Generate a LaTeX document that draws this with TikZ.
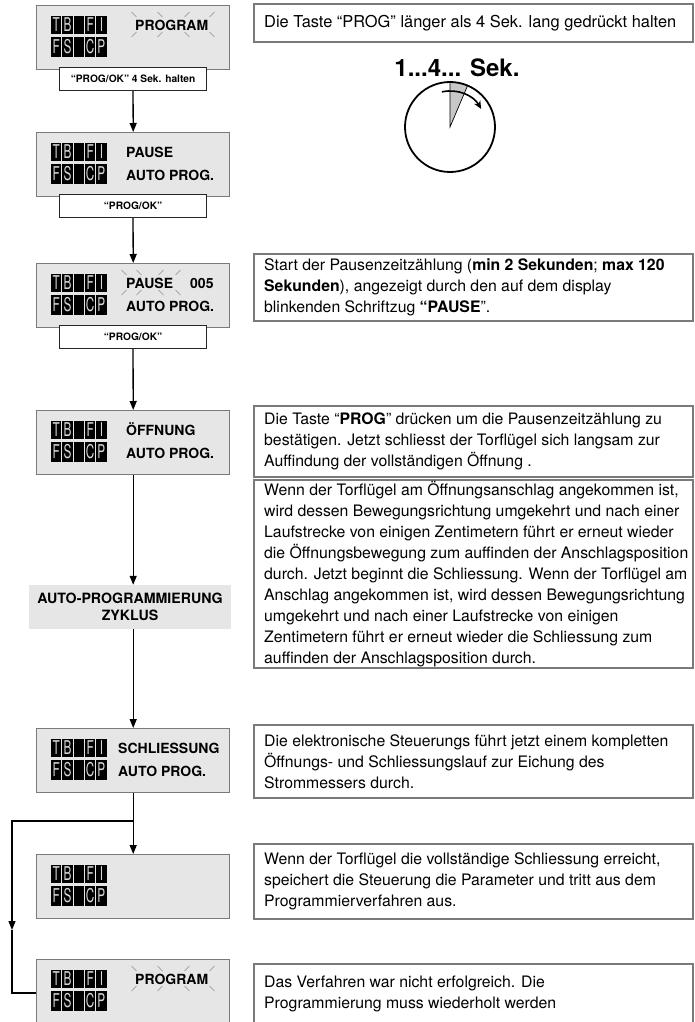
\documentclass[tikz,border=0pt]{standalone}
\usepackage{fontspec}
\setmainfont{TeX Gyre Heros}
\usetikzlibrary{arrows.meta}
\definecolor{dispgray}{HTML}{E6E6E6}
\definecolor{framegray}{HTML}{7A7A7A}
\definecolor{lcdtxt}{HTML}{D8D8D8}
\definecolor{wedgegray}{HTML}{C8C8C8}
\tikzset{
 disp/.style={draw=framegray, line width=1.4pt, fill=dispgray, minimum width=193pt, minimum height=64pt, anchor=north west, inner sep=0pt},
 btn/.style={draw=black!85, line width=1.1pt, fill=white, font=\fontsize{10.2}{12}\selectfont\bfseries, minimum width=147pt, minimum height=23pt, anchor=north west, inner sep=0pt},
 autobox/.style={fill=dispgray, minimum width=202pt, minimum height=44pt, align=center, inner sep=0pt, font=\fontsize{14.2}{17}\selectfont\bfseries},
 tframe/.style={draw=framegray, line width=1.8pt, minimum width=439pt, anchor=north west, inner sep=0pt},
 ttext/.style={font=\fontsize{15.8}{21}\selectfont, align=left, inner sep=0pt, anchor=west},
 dtext/.style={font=\fontsize{14}{17}\selectfont\bfseries, inner sep=0pt, anchor=base west},
 conn/.style={line width=1.3pt, black},
 arr/.style={conn, -{Triangle[length=9pt,width=7pt]}},
 blinkmark/.style={draw=black!45, line width=0.6pt},
 lcdletter/.style={text=lcdtxt, font=\fontsize{19}{19}\selectfont, inner sep=0pt},
}
% #1 name prefix, #2 box top
\newcommand\lcdicon[2]{%
 \foreach \i/\a/\b in {0/T/F,1/B/S,2//,3/F/C,4/I/P}{
   \fill (51+\i*11.3, #2+11) rectangle ++(10.4,18);
   \fill (51+\i*11.3, #2+32) rectangle ++(10.4,20);
   \node[lcdletter] (#1-a\i) at (56.2+\i*11.3, #2+20) {\scalebox{0.62}[1]{\a}};
   \node[lcdletter] (#1-b\i) at (56.2+\i*11.3, #2+42) {\scalebox{0.62}[1]{\b}};
 }}
% #1..#4 x positions, #5 y centre
\newcommand\blinkmarks[5]{%
 \draw[blinkmark] (#1-2.5,#5-13) -- (#1+2.5,#5-8);
 \draw[blinkmark] (#2-2.5,#5-13) -- (#2+2.5,#5-8);
 \draw[blinkmark] (#3-2.5,#5-8) -- (#3+2.5,#5-13);
 \draw[blinkmark] (#4-2.5,#5-8) -- (#4+2.5,#5-13);
 \draw[blinkmark] (#1-2.5,#5+12) -- (#1+2.5,#5+7);
 \draw[blinkmark] (#2-2.5,#5+12) -- (#2+2.5,#5+7);
 \draw[blinkmark] (#3-2.5,#5+7) -- (#3+2.5,#5+12);
 \draw[blinkmark] (#4-2.5,#5+7) -- (#4+2.5,#5+12);
}
\begin{document}
\begin{tikzpicture}[x=1pt,y=-1pt]
\path[use as bounding box] (0,0) rectangle (694,1022);
\clip (0,0) rectangle (694,1022);

% ---------- displays ----------
\node[disp] (d1) at (36,5) {};
\lcdicon{i1}{5}
\node[dtext] (d1t) at (135,30.2) {PROGRAM};
\blinkmarks{134}{160}{187}{212}{25}
\node[btn] (b1) at (59,67) {“PROG/OK” 4 Sek. halten};

\node[disp] (d2) at (36,132) {};
\lcdicon{i2}{132}
\node[dtext] (d2a) at (126,157.2) {PAUSE};
\node[dtext] (d2b) at (126,180.2) {AUTO PROG.};
\node[btn] (b2) at (59,194) {“PROG/OK”};

\node[disp] (d3) at (36,263) {};
\lcdicon{i3}{263}
\node[dtext] (d3a) at (126,288.2) {PAUSE};
\node[dtext] (d3c) at (190,288.2) {005};
\blinkmarks{124}{139}{161}{178}{283}
\node[dtext] (d3b) at (126,311.2) {AUTO PROG.};
\node[btn] (b3) at (59,325) {“PROG/OK”};

\node[disp] (d4) at (36,410) {};
\lcdicon{i4}{410}
\node[dtext] (d4a) at (126,435.2) {ÖFFNUNG};
\node[dtext] (d4b) at (126,458.2) {AUTO PROG.};

\node[autobox] (ap) at (130,607) {AUTO-PROGRAMMIERUNG\\ZYKLUS};

\node[disp] (d5) at (36,728) {};
\lcdicon{i5}{728}
\node[dtext] (d5a) at (118,753.2) {SCHLIESSUNG};
\node[dtext] (d5b) at (118,776.2) {AUTO PROG.};

\node[disp] (d6) at (36,854) {};
\lcdicon{i6}{854}

\node[disp, minimum height=90pt] (d7) at (36,959) {};
\lcdicon{i7}{959}
\node[dtext] (d7t) at (135,984.2) {PROGRAM};
\blinkmarks{134}{160}{187}{212}{979}

% ---------- connectors ----------
\draw[arr] (b1.south) -- (d2.north);
\draw[arr] (b2.south) -- (d3.north);
\draw[arr] (b3.south) -- (d4.north);
\draw[arr] (d4.south) -- (d4.south |- ap.north);
\draw[arr] (d5.north |- ap.south) -- (d5.north);
\coordinate (jy) at (0,821);
\coordinate (j) at (d5.south |- jy);
\coordinate (lc) at (12,821);
\coordinate (la) at (12,930);
\coordinate (lb) at (12,993);
\draw[conn] (d5.south) -- (j);
\draw[arr] (j) -- (d6.north);
\draw[arr] (j) -- (lc) -- (la);
\draw[conn] (la) -- (lb) -- (d7.west |- lb);

% ---------- clock ----------
\node[font=\fontsize{24}{26}\selectfont\bfseries, inner sep=0pt] (ct) at (457,68) {1...4... Sek.};
\coordinate (cc) at (450,127);
\fill[wedgegray] (cc) -- (450,82) arc[start angle=-90, end angle=-67, radius=45] -- cycle;
\draw[line width=0.7pt] (467.6,85.6) -- (cc) -- (450,82);
\draw[line width=1.8pt] (cc) circle[radius=45];
\draw[line width=1.6pt, -{Stealth[length=8pt,width=7pt]}] (441.9,91.9) arc[start angle=-103, end angle=-30, radius=36];

% ---------- text boxes ----------
\node[tframe, minimum height=38pt] (t1) at (253,3) {};
\node[ttext, font=\fontsize{16.4}{21}\selectfont] (t1x) at ([xshift=11pt]t1.west) {Die Taste “PROG” länger als 4 Sek. lang gedrückt halten};

\node[tframe, minimum height=67pt] (t3) at (253,253) {};
\node[ttext] (t3x) at ([xshift=11pt]t3.west) {Start der Pausenzeitzählung (\textbf{min 2 Sekunden}; \textbf{max 120}\\\textbf{Sekunden}), angezeigt durch den auf dem display\\blinkenden Schriftzug \textbf{“PAUSE}”.};

\node[tframe, minimum height=71pt] (t4) at (253,405) {};
\node[ttext] (t4x) at ([xshift=11pt]t4.west) {Die Taste “\textbf{PROG}” drücken um die Pausenzeitzählung zu\\bestätigen. Jetzt schliesst der Torflügel sich langsam zur\\Auffindung der vollständigen Öffnung .};

\node[tframe, minimum height=188pt] (t5) at (253,479) {};
\node[ttext] (t5x) at ([xshift=11pt]t5.west) {Wenn der Torflügel am Öffnungsanschlag angekommen ist,\\wird dessen Bewegungsrichtung umgekehrt und nach einer\\Laufstrecke von einigen Zentimetern führt er erneut wieder\\die Öffnungsbewegung zum auffinden der Anschlagsposition\\durch. Jetzt beginnt die Schliessung. Wenn der Torflügel am\\Anschlag angekommen ist, wird dessen Bewegungsrichtung\\umgekehrt und nach einer Laufstrecke von einigen\\Zentimetern führt er erneut wieder die Schliessung zum\\auffinden der Anschlagsposition durch.};

\node[tframe, minimum height=73pt] (t6) at (253,724) {};
\node[ttext] (t6x) at ([xshift=11pt]t6.west) {Die elektronische Steuerungs führt jetzt einem kompletten\\Öffnungs- und Schliessungslauf zur Eichung des\\Strommessers durch.};

\node[tframe, minimum height=75pt] (t7) at (253,843) {};
\node[ttext] (t7x) at ([xshift=11pt]t7.west) {Wenn der Torflügel die vollständige Schliessung erreicht,\\speichert die Steuerung die Parameter und tritt aus dem\\Programmierverfahren aus.};

\node[tframe, minimum height=90pt] (t8) at (253,963) {};
\node[ttext, anchor=north west] (t8x) at (264,976) {Das Verfahren war nicht erfolgreich. Die\\Programmierung muss wiederholt werden};
\end{tikzpicture}
\end{document}
